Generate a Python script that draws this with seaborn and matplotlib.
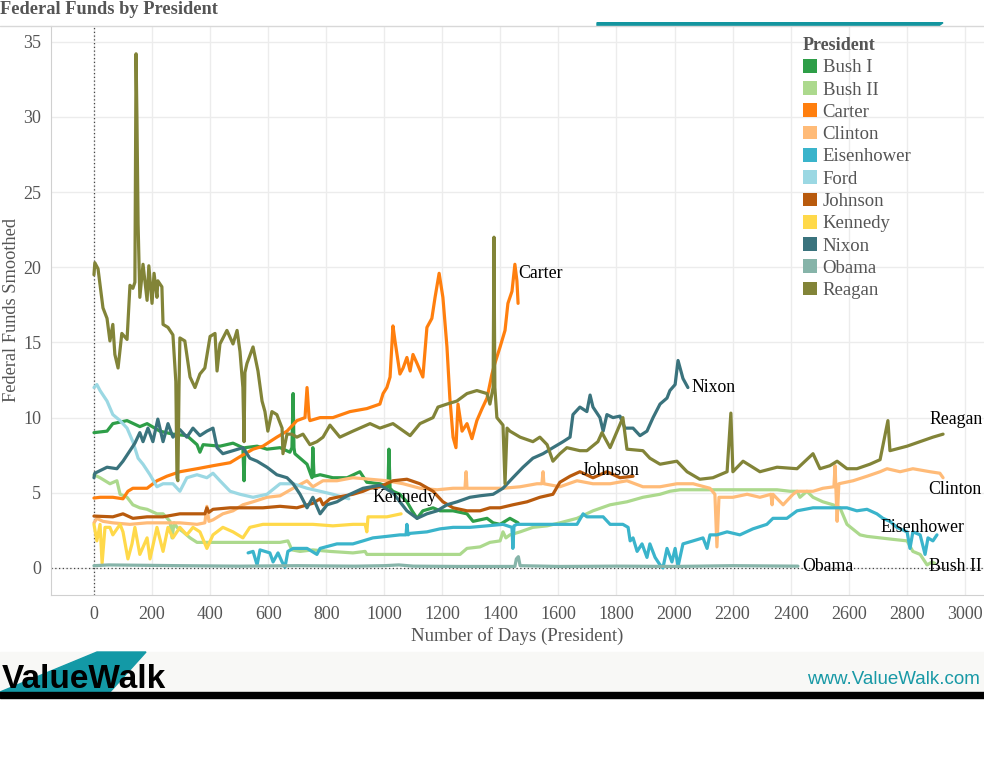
import matplotlib
matplotlib.use("Agg")
import matplotlib.pyplot as plt
from matplotlib.patches import Patch, Rectangle, Polygon
import pandas as pd
import seaborn as sns

presidents = ["Bush I", "Bush II", "Carter", "Clinton", "Eisenhower", "Ford",
              "Johnson", "Kennedy", "Nixon", "Obama", "Reagan"]
colors = ["#2e9e48", "#acd98d", "#ff7f0e", "#ffbb78", "#3ab4cb", "#9bd8e3",
          "#b85a0d", "#ffd94a", "#3a737d", "#86b4a9", "#828438"]

# days since inauguration / smoothed fed funds rate
bush1_days = [0, 45, 65, 114, 158, 183, 227, 272, 320, 355, 365, 376, 434, 479, 513, 517, 520,
              562, 596, 641, 675, 682, 686, 689, 692, 734, 751, 754, 758, 779, 823, 872, 916,
              940, 985, 1013, 1016, 1020, 1030, 1054, 1078, 1096, 1113, 1133, 1168, 1192, 1237,
              1285, 1306, 1354, 1375, 1399, 1433, 1461]
bush1_vals = [9.0, 9.1, 9.6, 9.8, 9.4, 9.6, 9.1, 8.9, 8.8, 8.2, 7.7, 8.2, 8.1, 8.3, 8.0, 5.8, 8.0,
              8.1, 7.9, 8.0, 7.7, 8.0, 11.6, 8.0, 7.6, 6.9, 6.0, 8.0, 6.1, 6.2, 6.0, 6.0, 6.4,
              5.7, 5.6, 5.4, 7.9, 5.3, 5.1, 4.9, 4.4, 3.8, 3.3, 3.8, 4.0, 3.8, 3.8,
              3.6, 3.1, 3.3, 3.0, 2.9, 3.3, 3.0]

bush2_days = [0, 21, 55, 79, 90, 114, 134, 158, 183, 217, 238, 262, 269, 276, 286, 307, 331, 355,
              410, 469, 527, 582, 641, 668, 682, 710, 754, 813, 892, 934, 940, 1009, 1123, 1261,
              1285, 1330, 1364, 1399, 1409, 1419, 1433, 1468, 1512, 1561, 1605, 1664, 1719, 1778,
              1836, 1891, 1950, 1984, 2019, 2122, 2236, 2353, 2398, 2422, 2432, 2456, 2477, 2511,
              2546, 2570, 2594, 2639, 2663, 2708, 2753, 2801, 2821, 2846, 2870, 2887, 2897]
bush2_vals = [6.2, 6.0, 5.6, 5.8, 4.9, 4.7, 4.2, 4.0, 3.9, 3.6, 3.6, 3.1, 2.0, 3.0, 2.7, 2.4, 2.0, 1.7,
              1.7, 1.7, 1.7, 1.7, 1.7, 1.8, 1.2, 1.1, 1.2, 1.1, 1.0, 1.1, 0.9, 0.9, 0.9, 0.9,
              1.3, 1.4, 1.7, 1.8, 2.4, 2.0, 2.2, 2.4, 2.7, 2.8, 3.0, 3.3, 3.8, 4.2,
              4.4, 4.7, 4.9, 5.1, 5.2, 5.2, 5.2, 5.2, 5.1, 5.1, 4.7, 5.1, 4.7, 4.4,
              4.2, 4.0, 2.9, 2.2, 2.1, 2.0, 1.9, 1.8, 1.1, 0.9, 0.2, 0.4, 0.3]

carter_days = [0, 21, 65, 100, 117, 134, 183, 217, 251, 296, 355, 410, 469, 503, 548, 582, 630, 665,
               699, 727, 734, 741, 744, 779, 823, 882, 940, 985, 996, 1009, 1020, 1030, 1037, 1054,
               1065, 1078, 1089, 1099, 1113, 1133, 1147, 1164, 1175, 1189, 1202, 1216, 1226, 1237,
               1247, 1254, 1268, 1285, 1302, 1319, 1337, 1354, 1371, 1381, 1399, 1416, 1426, 1440,
               1450, 1457, 1461]
carter_vals = [4.65, 4.7, 4.7, 4.6, 5.1, 5.3, 5.3, 5.8, 6.1, 6.4, 6.6, 6.8, 7.0, 7.4, 7.9, 8.1, 8.7, 9.1,
               9.8, 10.0, 12.0, 10.0, 9.8, 10.0, 10.0, 10.4, 10.6, 10.9, 11.6, 12.0, 12.7, 16.1, 15.1, 12.9,
               13.3, 14.0, 13.1, 14.2, 13.6, 12.7, 16.0, 16.6, 18.0, 19.6, 18.0, 14.7, 11.3, 8.7,
               8.0, 10.9, 9.1, 9.6, 8.6, 9.8, 10.6, 11.3, 12.9, 13.6, 14.7, 15.8, 17.6, 18.4,
               20.2, 19.1, 17.6]

clinton_days = [0, 10, 31, 65, 124, 183, 238, 296, 355, 382, 389, 396, 410, 444, 479, 513, 548, 596,
                641, 686, 734, 754, 789, 837, 892, 951, 1009, 1065, 1123, 1182, 1237, 1278, 1282,
                1285, 1354, 1409, 1468, 1526, 1543, 1547, 1550, 1605, 1664, 1719, 1778, 1836, 1891,
                1950, 2008, 2064, 2122, 2139, 2146, 2153, 2201, 2250, 2294, 2332, 2336, 2339, 2374,
                2408, 2422, 2477, 2511, 2549, 2553, 2560, 2566, 2615, 2663, 2708, 2732, 2777, 2821,
                2880, 2914, 2925]
clinton_vals = [3.0, 3.3, 3.1, 3.0, 2.9, 3.0, 3.0, 3.0, 2.9, 3.0, 4.1, 3.1, 3.2, 3.6, 3.8, 4.2, 4.4, 4.7,
                4.8, 5.3, 5.8, 5.4, 5.8, 5.8, 6.0, 5.9, 5.8, 5.6, 5.3, 5.2, 5.3, 5.3, 6.4,
                5.3, 5.3, 5.3, 5.4, 5.6, 5.6, 6.4, 5.6, 5.4, 5.8, 5.6, 5.6, 5.8, 5.4,
                5.4, 5.6, 5.6, 5.3, 4.9, 1.4, 4.7, 4.7, 4.9, 4.7, 4.9, 4.2, 4.9, 4.2,
                4.9, 5.1, 5.1, 5.3, 5.4, 6.8, 3.1, 5.6, 5.8, 6.1, 6.4, 6.6, 6.4, 6.6,
                6.4, 6.3, 6.0]

eisen_days = [531, 548, 562, 572, 589, 606, 617, 634, 648, 658, 668, 686, 734, 768, 779, 837, 892,
              927, 961, 1009, 1054, 1075, 1078, 1082, 1089, 1147, 1192, 1237, 1295, 1354, 1409,
              1440, 1443, 1447, 1457, 1526, 1605, 1664, 1685, 1698, 1754, 1778, 1822, 1840, 1847,
              1857, 1871, 1888, 1905, 1915, 1933, 1950, 1960, 1974, 1991, 2002, 2012, 2029, 2064,
              2098, 2112, 2122, 2146, 2181, 2225, 2270, 2318, 2339, 2387, 2422, 2477, 2546, 2594,
              2628, 2663, 2697, 2718, 2742, 2766, 2801, 2811, 2821, 2846, 2863, 2873, 2890, 2904]
eisen_vals = [1.0, 1.1, 0.2, 1.2, 1.1, 1.0, 0.4, 1.0, 0.4, 0.05, 1.1, 1.3, 1.3, 0.9, 1.3, 1.6, 1.6,
              1.8, 2.0, 2.1, 2.2, 2.2, 2.9, 2.2, 2.3, 2.4, 2.6, 2.7, 2.7, 2.8, 2.9,
              2.7, 1.3, 2.8, 2.9, 2.9, 2.9, 2.9, 3.6, 3.4, 3.4, 2.9, 2.9, 2.7, 1.8,
              2.0, 1.1, 1.6, 0.7, 1.6, 0.7, 0.2, 0.0, 1.3, 0.4, 1.3, 0.1, 1.6, 1.8,
              2.0, 1.3, 2.2, 2.2, 2.4, 2.2, 2.6, 2.9, 3.3, 3.3, 3.8, 4.0, 4.0, 4.0,
              3.8, 3.9, 3.6, 3.3, 3.1, 2.7, 2.4, 1.3, 2.4, 2.2, 0.9, 2.0, 1.8, 2.2]

ford_days = [0, 10, 21, 45, 65, 90, 114, 134, 152, 169, 193, 217, 238, 272, 296, 320, 355, 389, 410,
             434, 469, 503, 548, 596, 641, 686, 734, 779, 823, 858, 878]
ford_vals = [12.0, 12.2, 11.8, 11.1, 10.2, 9.8, 9.3, 8.4, 7.3, 6.9, 6.2, 5.4, 5.6, 5.6, 5.1, 6.0, 6.2, 6.0, 6.3,
             5.8, 5.1, 4.9, 4.7, 4.9, 5.6, 5.6, 5.3, 5.1, 4.9, 4.7, 4.6]

johnson_days = [0, 65, 100, 134, 183, 238, 296, 355, 382, 389, 396, 410, 469, 527, 582, 641, 699, 754,
                779, 789, 813, 837, 892, 927, 951, 985, 1030, 1078, 1123, 1168, 1202, 1237, 1285,
                1330, 1364, 1399, 1443, 1492, 1536, 1581, 1605, 1640, 1674, 1719, 1767, 1812, 1857]
johnson_vals = [3.45, 3.4, 3.6, 3.3, 3.4, 3.4, 3.6, 3.6, 3.6, 4.0, 3.7, 3.9, 4.0, 4.0, 4.0, 4.1, 4.0, 4.3,
                4.6, 4.2, 4.6, 4.7, 4.9, 5.1, 5.3, 5.4, 5.8, 5.9, 5.6, 5.1, 4.4, 4.0, 3.8,
                3.8, 4.0, 4.0, 4.2, 4.4, 4.7, 4.9, 5.7, 6.1, 6.4, 6.0, 6.4, 6.0, 6.1]

kennedy_days = [0, 10, 21, 28, 38, 55, 65, 90, 100, 117, 131, 141, 158, 183, 193, 217, 238, 255, 272,
                296, 320, 341, 365, 389, 410, 444, 479, 513, 537, 582, 641, 699, 754, 823, 892, 934,
                940, 944, 1009, 1058]
kennedy_vals = [2.9, 1.8, 2.9, 0.3, 2.7, 2.7, 2.2, 2.9, 2.4, 0.6, 1.6, 2.7, 0.9, 2.0, 0.6, 2.7, 1.1, 2.7, 2.0,
                2.7, 2.2, 2.7, 2.4, 1.3, 2.2, 2.7, 2.4, 2.0, 2.7, 2.9, 2.9, 2.9, 2.9, 2.8, 2.9, 2.9,
                2.4, 3.4, 3.4, 3.6]

nixon_days = [0, 3, 45, 79, 100, 124, 141, 158, 169, 186, 203, 220, 238, 255, 272, 296, 320, 341, 365,
              389, 410, 424, 444, 479, 513, 537, 562, 596, 630, 665, 686, 710, 734, 754, 779, 803,
              837, 882, 927, 985, 1030, 1054, 1078, 1113, 1147, 1182, 1216, 1251, 1295, 1330, 1375,
              1409, 1443, 1478, 1512, 1547, 1581, 1616, 1640, 1650, 1674, 1698, 1709, 1719, 1743,
              1754, 1767, 1788, 1812, 1829, 1857, 1881, 1905, 1926, 1950, 1974, 1984, 2002, 2012,
              2029, 2046]
nixon_vals = [6.0, 6.3, 6.7, 6.6, 7.1, 7.8, 8.3, 9.0, 8.4, 9.3, 8.4, 9.9, 8.4, 9.6, 8.7, 9.2, 8.7, 9.3, 8.8,
              9.1, 9.3, 8.0, 7.6, 7.8, 8.0, 7.3, 7.1, 6.7, 6.2, 6.0, 5.6, 4.9, 4.0, 4.7, 3.6, 4.2,
              4.4, 4.9, 5.3, 5.5, 5.0, 4.4, 3.8, 3.3, 3.6, 3.8, 4.2, 4.4, 4.7, 4.8, 4.9,
              5.3, 6.0, 6.7, 7.3, 7.6, 8.0, 8.4, 8.7, 10.2, 10.7, 10.4, 11.5, 10.7, 10.0,
              9.1, 10.2, 10.0, 10.1, 9.3, 9.3, 8.8, 9.1, 10.0, 10.9, 11.3, 11.8, 12.2, 13.8,
              12.6, 12.0]

obama_days = [0, 50, 150, 300, 500, 700, 900, 1000, 1050, 1100, 1250, 1400, 1450, 1455, 1462, 1468,
              1600, 1800, 2000, 2200, 2425]
obama_vals = [0.15, 0.2, 0.18, 0.15, 0.12, 0.15, 0.12, 0.15, 0.2, 0.12, 0.1, 0.1, 0.1, 0.6, 0.75, 0.15,
              0.1, 0.12, 0.1, 0.15, 0.12]

reagan_days = [0, 3, 14, 31, 45, 55, 65, 72, 83, 96, 114, 124, 134, 141, 145, 148, 152, 158, 169, 183,
               189, 200, 207, 217, 220, 234, 238, 255, 272, 282, 286, 289, 293, 296, 313, 331, 348,
               365, 382, 400, 417, 424, 434, 458, 479, 493, 503, 513, 517, 520, 527, 548, 565, 579,
               589, 599, 613, 630, 648, 651, 665, 682, 699, 720, 744, 768, 789, 813, 847, 892, 951,
               985, 1030, 1089, 1123, 1168, 1185, 1216, 1250, 1285, 1319, 1354, 1364, 1375, 1378,
               1381, 1388, 1409, 1416, 1423, 1433, 1468, 1512, 1536, 1561, 1581, 1605, 1629, 1674,
               1698, 1736, 1750, 1778, 1822, 1836, 1891, 1915, 1950, 2008, 2043, 2087, 2132, 2181,
               2194, 2201, 2236, 2294, 2353, 2422, 2477, 2501, 2535, 2560, 2594, 2628, 2673, 2708,
               2735, 2742, 2801, 2846, 2890, 2925]
reagan_vals = [19.5, 20.3, 19.9, 17.3, 16.6, 15.1, 16.2, 14.2, 13.3, 15.6, 15.2, 18.8, 18.6, 19.0, 34.2, 30.0,
               22.9, 18.0, 20.2, 17.8, 20.1, 17.6, 19.6, 18.0, 19.1, 18.7, 16.2, 16.0, 15.5, 12.4, 6.0,
               5.8, 12.0, 15.3, 15.1, 12.7, 12.0, 12.9, 13.3, 15.4, 15.6, 13.1, 14.9, 15.8, 14.9, 15.8,
               14.4, 12.0, 8.4, 13.0, 13.6, 14.7, 13.1, 11.1, 10.4, 9.1, 10.4, 10.2, 9.3, 7.6, 8.9, 8.9,
               8.7, 8.9, 8.2, 8.4, 8.7, 9.5, 8.7, 9.1, 9.6, 9.3, 9.6, 8.8, 9.6, 10.0, 10.7, 10.9, 11.1,
               11.6, 11.8, 11.6, 10.9, 12.0, 22.0, 12.0, 10.0, 9.5, 5.6, 9.3, 9.1, 8.7, 8.4, 8.7, 8.2,
               7.1, 7.6, 8.0, 7.8, 7.8, 8.4, 9.0, 8.0, 10.0, 7.9, 7.8, 7.3, 6.9, 7.1, 6.4, 5.9, 6.0,
               6.4, 10.3, 6.4, 7.1, 6.4, 6.7, 6.6, 7.6, 6.6, 6.8, 7.1, 6.6, 6.6, 6.9, 7.2, 9.8, 7.8,
               8.1, 8.4, 8.7, 8.9]

series = {
    "Bush I": (bush1_days, bush1_vals),
    "Bush II": (bush2_days, bush2_vals),
    "Carter": (carter_days, carter_vals),
    "Clinton": (clinton_days, clinton_vals),
    "Eisenhower": (eisen_days, eisen_vals),
    "Ford": (ford_days, ford_vals),
    "Johnson": (johnson_days, johnson_vals),
    "Kennedy": (kennedy_days, kennedy_vals),
    "Nixon": (nixon_days, nixon_vals),
    "Obama": (obama_days, obama_vals),
    "Reagan": (reagan_days, reagan_vals),
}

# end-of-line labels (text anchor in data units)
line_labels = {
    "Carter": (1461, 19.6), "Nixon": (2060, 12.0), "Johnson": (1681, 6.5),
    "Kennedy": (958, 4.7), "Reagan": (2878, 9.9), "Clinton": (2875, 5.25),
    "Eisenhower": (2708, 2.7), "Obama": (2439, 0.1), "Bush II": (2878, 0.1),
}

frames = []
for name in presidents:
    d, v = series[name]
    frames.append(pd.DataFrame({"President": name, "day": d, "rate": v}))
df = pd.concat(frames, ignore_index=True)

sns.set_style("white")
plt.rcParams["font.family"] = ["Liberation Serif", "DejaVu Serif"]

grey = "#555555"
fig = plt.figure(figsize=(9.84, 7.84), dpi=100)
ax = fig.add_axes([51 / 984, 1 - 595 / 784, 933 / 984, 569 / 784])

sns.lineplot(data=df, x="day", y="rate", hue="President", hue_order=presidents,
             palette=dict(zip(presidents, colors)), estimator=None, sort=False,
             lw=2.3, legend=False, ax=ax)

ax.set_xlim(-148, 3066)
ax.set_ylim(-1.8, 36.05)
ax.set_xticks(range(0, 3001, 200))
ax.set_yticks(range(0, 36, 5))
ax.grid(True, color="#ececec", lw=1)
ax.set_axisbelow(True)
ax.axhline(0, color="#444444", ls=(0, (1, 2)), lw=0.9, zorder=1)
ax.axvline(0, color="#444444", ls=(0, (1, 2)), lw=0.9, zorder=1)
ax.tick_params(axis="both", colors="#cccccc", labelcolor=grey, labelsize=13,
               length=4, width=1, direction="out")
ax.tick_params(axis="x", pad=4)
ax.tick_params(axis="y", pad=3)
for s in ["top", "right"]:
    ax.spines[s].set_visible(False)
for s in ["left", "bottom"]:
    ax.spines[s].set_color("#d0d0d0")
ax.set_xlabel("")
ax.set_ylabel("")

for name, (lx, ly) in line_labels.items():
    ax.text(lx, ly, name, fontsize=12.8, color="black", ha="left", va="center", zorder=5)

handles = [Patch(facecolor=c, edgecolor="none") for c in colors]
leg = ax.legend(handles, presidents, title="President", loc="upper left",
                bbox_to_anchor=(803 / 984, 1 - 37 / 784), bbox_transform=fig.transFigure,
                frameon=False, fontsize=13.5, handlelength=0.75, handleheight=0.75,
                handletextpad=0.3, labelspacing=0.26, borderpad=0, borderaxespad=0,
                title_fontproperties={"weight": "bold", "size": 13})
leg._legend_box.align = "left"
leg.get_title().set_color(grey)
for t in leg.get_texts():
    t.set_color(grey)

fig.text(0, 1 - 10 / 784, "Federal Funds by President", fontsize=13.2, weight="bold",
         color=grey, ha="left", va="center")
fig.text(12 / 984, 1 - 310 / 784, "Federal Funds Smoothed", rotation=90, fontsize=13.2,
         color=grey, ha="center", va="center")
fig.text(517 / 984, 1 - 636 / 784, "Number of Days (President)", fontsize=13.5,
         color=grey, ha="center", va="center")

# top border and teal bar
fig.add_artist(plt.Line2D([0, 1], [1 - 26 / 784, 1 - 26 / 784], color="#d8d8d8", lw=1,
                          transform=fig.transFigure))
fig.add_artist(Polygon([(597 / 984, 1 - 22.7 / 784), (943 / 984, 1 - 22.7 / 784),
                        (939 / 984, 1 - 25.7 / 784), (597 / 984, 1 - 25.7 / 784)],
                       closed=True, color="#13959f", transform=fig.transFigure))

# footer
fig.add_artist(Rectangle((0, 1 - 692 / 784), 1, 40 / 784, color="#f8f8f6",
                         transform=fig.transFigure, zorder=0))
fig.add_artist(Polygon([(0, 1 - 692 / 784), (110 / 984, 1 - 692 / 784),
                        (146 / 984, 1 - 652 / 784), (97 / 984, 1 - 652 / 784)],
                       closed=True, color="#1399a6", transform=fig.transFigure))
fig.add_artist(Rectangle((0, 1 - 698 / 784), 1, 6 / 784, color="black",
                         transform=fig.transFigure))
fig.text(2 / 984, 1 - 688 / 784, "ValueWalk", family="Liberation Sans", weight="bold",
         fontsize=24, color="black", ha="left", va="baseline")
fig.text(980 / 984, 1 - 679 / 784, "www.ValueWalk.com", family="Liberation Sans",
         fontsize=13.5, color="#1899a6", ha="right", va="center")

fig.savefig("out.png", dpi=100)
